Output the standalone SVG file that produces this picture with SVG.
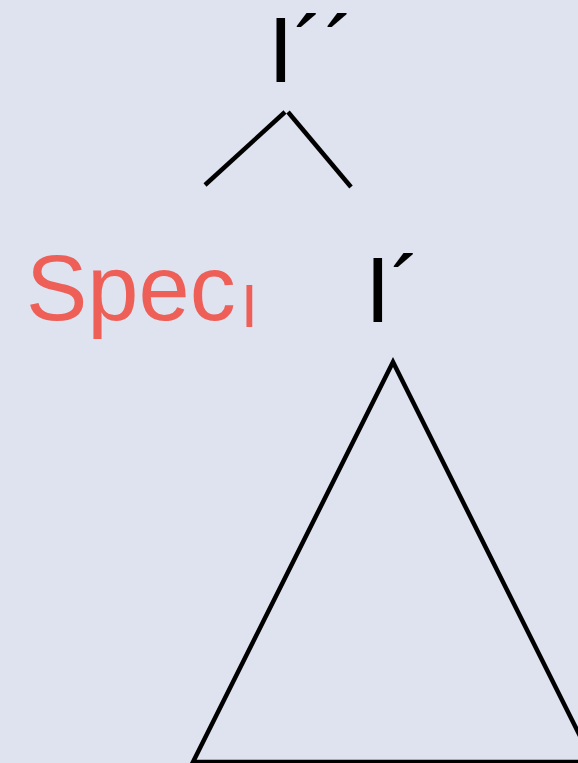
<svg xmlns="http://www.w3.org/2000/svg" width="578" height="763" viewBox="0 0 578 763">
<style>
.t{font-family:"Liberation Sans",Arial,sans-serif;font-size:92px;fill:#000}
.spec{fill:#EE5F58}
.ln{stroke:#000;stroke-width:4.5;fill:none}
</style>
<rect width="578" height="763" fill="#DFE3EF"/>
<g id="node-Ipp"><text class="t" x="268" y="82">I´´</text></g>
<g id="node-Spec"><text class="t spec" x="26" y="320">Spec<tspan font-size="62" dx="5" dy="7">I</tspan></text></g>
<g id="node-Ip"><text class="t" x="365" y="322">I´</text></g>
<g id="connectors">
<line class="ln" x1="205" y1="185" x2="285" y2="112"/>
<line class="ln" x1="288" y1="112" x2="351" y2="187"/>
<path class="ln" d="M193,762 L393,362 L593,762 Z"/>
</g>
</svg>
